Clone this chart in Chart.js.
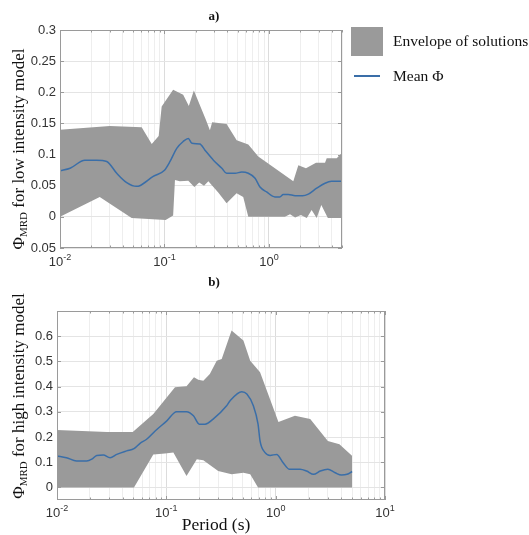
<!DOCTYPE html>
<html>
<head>
<meta charset="utf-8">
<script src="https://cdn.jsdelivr.net/npm/chart.js@4.4.1/dist/chart.umd.min.js"></script>
<style>
  body { margin: 0; background: #fff; }
  #page { position: relative; width: 529px; height: 535px; overflow: hidden; font-family: "Liberation Serif", serif; color: #111; }
  canvas { position: absolute; left: 0; }
  .ttl { position: absolute; font-weight: bold; font-size: 13px; width: 40px; text-align: center; }
  .ylab { position: absolute; width: 240px; height: 22px; line-height: 22px; text-align: center; font-size: 17px; white-space: nowrap; transform: rotate(-90deg); }
  .ylab sub { font-size: 11px; vertical-align: -3px; }
  .xlab { position: absolute; font-size: 17.5px; width: 120px; text-align: center; }
  .leg { position: absolute; font-size: 15.5px; white-space: nowrap; }
</style>
</head>
<body>
<div id="page">
  <canvas id="top" width="529" height="270" style="top:0"></canvas>
  <canvas id="bot" width="529" height="265" style="top:270px"></canvas>

  <div class="ttl" style="left:194px; top:8px;">a)</div>
  <div class="ttl" style="left:194px; top:274px;">b)</div>

  <div class="ylab" style="left:-101px; top:138px;">Φ<sub>MRD</sub> for low intensity model</div>
  <div class="ylab" style="left:-101px; top:385px;">Φ<sub>MRD</sub> for high intensity model</div>
  <div class="xlab" style="left:156px; top:514px;">Period (s)</div>

  <div style="position:absolute; left:351px; top:27px; width:32px; height:29px; background:#9a9a9a;"></div>
  <div class="leg" style="left:393px; top:32px;">Envelope of solutions</div>
  <div style="position:absolute; left:354px; top:75px; width:26px; height:2px; background:#3a6ea8;"></div>
  <div class="leg" style="left:393px; top:67px;">Mean Φ</div>
</div>

<script>
// (a) low intensity model
const topUpperX = [0.01, 0.030, 0.0605, 0.0755, 0.088, 0.094, 0.121, 0.151, 0.171, 0.191, 0.249, 0.272, 0.286, 0.393, 0.491, 0.634, 0.79, 1.71, 1.91, 2.26, 2.82, 3.44, 3.57, 4.45, 5];
const topUpperY = [0.14, 0.146, 0.144, 0.117, 0.13, 0.177, 0.204, 0.196, 0.178, 0.203, 0.156, 0.139, 0.152, 0.149, 0.123, 0.116, 0.097, 0.057, 0.083, 0.078, 0.087, 0.087, 0.094, 0.094, 0.103];
const topLowerX = [0.01, 0.024, 0.0485, 0.1026, 0.121, 0.126, 0.14, 0.169, 0.193, 0.215, 0.239, 0.263, 0.327, 0.393, 0.49, 0.567, 0.634, 1.42, 1.59, 1.78, 2.02, 2.3, 2.56, 2.86, 3.17, 3.66, 5];
const topLowerY = [0, 0.032, -0.002, -0.005, 0.002, 0.059, 0.057, 0.058, 0.048, 0.055, 0.05, 0.057, 0.039, 0.022, 0.038, 0.032, 0, 0, 0.004, -0.001, 0.003, -0.002, 0.011, -0.002, 0.019, -0.002, -0.002];
const topMeanX = [0.01, 0.0125, 0.0173, 0.0224, 0.028, 0.0349, 0.0435, 0.054, 0.058, 0.078, 0.1, 0.113, 0.131, 0.151, 0.169, 0.183, 0.218, 0.244, 0.294, 0.354, 0.393, 0.474, 0.55, 0.634, 0.736, 0.82, 0.95, 1.14, 1.27, 1.37, 1.53, 1.78, 2.1, 2.35, 2.86, 3.44, 3.97, 5];
const topMeanY = [0.074, 0.078, 0.091, 0.091, 0.089, 0.070, 0.055, 0.049, 0.050, 0.065, 0.075, 0.089, 0.110, 0.121, 0.126, 0.118, 0.117, 0.107, 0.091, 0.078, 0.070, 0.070, 0.072, 0.070, 0.062, 0.048, 0.040, 0.032, 0.032, 0.036, 0.036, 0.034, 0.034, 0.036, 0.046, 0.054, 0.057, 0.057];
const topYTicks = [-0.05, 0, 0.05, 0.1, 0.15, 0.2, 0.25, 0.3];

// (b) high intensity model
const botUpperX = [0.01, 0.0287, 0.0493, 0.076, 0.12, 0.153, 0.179, 0.196, 0.218, 0.25, 0.289, 0.321, 0.395, 0.507, 0.585, 0.72, 1.06, 1.5, 2.07, 3.0, 3.83, 5];
const botUpperY = [0.228, 0.220, 0.220, 0.291, 0.397, 0.401, 0.437, 0.427, 0.423, 0.450, 0.503, 0.510, 0.623, 0.583, 0.503, 0.457, 0.260, 0.284, 0.271, 0.184, 0.171, 0.125];
const botLowerX = [0.01, 0.0506, 0.076, 0.097, 0.116, 0.153, 0.19, 0.218, 0.298, 0.395, 0.507, 0.585, 0.69, 5];
const botLowerY = [0, 0, 0.131, 0.135, 0.138, 0.045, 0.112, 0.108, 0.065, 0.052, 0.058, 0.052, 0, 0];
const botMeanX = [0.01, 0.0122, 0.0151, 0.0187, 0.0208, 0.0231, 0.0265, 0.0306, 0.0352, 0.0434, 0.0506, 0.0575, 0.066, 0.079, 0.101, 0.124, 0.153, 0.177, 0.2, 0.226, 0.268, 0.356, 0.383, 0.49, 0.545, 0.625, 0.69, 0.72, 0.8, 0.89, 1.02, 1.17, 1.34, 1.67, 1.92, 2.22, 2.56, 3.0, 3.5, 4.0, 4.5, 5];
const botMeanY = [0.125, 0.118, 0.105, 0.105, 0.112, 0.127, 0.129, 0.118, 0.131, 0.145, 0.154, 0.175, 0.191, 0.224, 0.264, 0.300, 0.300, 0.284, 0.251, 0.251, 0.271, 0.324, 0.344, 0.380, 0.371, 0.324, 0.251, 0.184, 0.138, 0.127, 0.131, 0.098, 0.072, 0.072, 0.065, 0.052, 0.065, 0.072, 0.058, 0.049, 0.052, 0.063];
const botYTicks = [0, 0.1, 0.2, 0.3, 0.4, 0.5, 0.6];

const ENVELOPE = '#9a9a9a';
const MEAN = '#3a6ea8';

const pts = (xs, ys) => xs.map((x, i) => ({ x, y: ys[i] }));
const isDecade = v => Math.abs(Math.log10(v) - Math.round(Math.log10(v))) < 1e-9;

function logTicks(min, max) {
  const out = [];
  for (let e = Math.floor(Math.log10(min)); e <= Math.ceil(Math.log10(max)); e++) {
    for (let m = 1; m <= 9; m++) {
      const v = +(m * Math.pow(10, e)).toPrecision(6);
      if (v >= min - 1e-12 && v <= max + 1e-12) out.push({ value: v });
    }
  }
  return out;
}

// MATLAB-like box, inner tick marks and 10^n labels
const matlabAxes = {
  id: 'matlabAxes',
  afterDraw(chart, args, opts) {
    const { ctx, chartArea: a, scales: { x, y } } = chart;
    ctx.save();
    ctx.strokeStyle = '#9a9a9a';
    ctx.lineWidth = 1;
    ctx.beginPath();
    x.ticks.forEach(t => {
      const px = Math.round(x.getPixelForValue(t.value)) + 0.5;
      const len = isDecade(t.value) ? 4 : 2.5;
      ctx.moveTo(px, a.bottom); ctx.lineTo(px, a.bottom - len);
      ctx.moveTo(px, a.top); ctx.lineTo(px, a.top + len);
    });
    y.ticks.forEach(t => {
      const py = Math.round(y.getPixelForValue(t.value)) + 0.5;
      ctx.moveTo(a.left, py); ctx.lineTo(a.left + 4, py);
      ctx.moveTo(a.right, py); ctx.lineTo(a.right - 4, py);
    });
    ctx.stroke();
    ctx.strokeRect(a.left + 0.5, a.top + 0.5, a.width - 1, a.height - 1);

    ctx.fillStyle = '#333';
    ctx.textBaseline = 'alphabetic';
    ctx.textAlign = 'left';
    x.ticks.filter(t => isDecade(t.value)).forEach(t => {
      const px = x.getPixelForValue(t.value);
      const e = String(Math.round(Math.log10(t.value)));
      ctx.font = '13px "Liberation Sans", Arial, sans-serif';
      const w1 = ctx.measureText('10').width;
      ctx.font = '9px "Liberation Sans", Arial, sans-serif';
      const w2 = ctx.measureText(e).width;
      const left = px - (w1 + w2) / 2;
      const base = a.bottom + opts.labelOffset;
      ctx.font = '13px "Liberation Sans", Arial, sans-serif';
      ctx.fillText('10', left, base);
      ctx.font = '9px "Liberation Sans", Arial, sans-serif';
      ctx.fillText(e, left + w1, base - 6);
    });
    ctx.restore();
  }
};

function makeChart(id, cfg) {
  return new Chart(document.getElementById(id).getContext('2d'), {
    type: 'line',
    data: {
      datasets: [
        { data: pts(cfg.lowerX, cfg.lowerY), borderWidth: 0, pointRadius: 0, fill: false, tension: 0, order: 2 },
        { data: pts(cfg.upperX, cfg.upperY), borderWidth: 0, pointRadius: 0, fill: '-1', backgroundColor: ENVELOPE, tension: 0, order: 1 },
        // mean drawn last, on top of the envelope
        { data: pts(cfg.meanX, cfg.meanY), borderColor: MEAN, borderWidth: 1.5, pointRadius: 0, fill: false, cubicInterpolationMode: 'monotone', order: 0 },
      ],
    },
    options: {
      responsive: false,
      animation: false,
      layout: { padding: cfg.padding },
      plugins: { legend: { display: false }, tooltip: { enabled: false }, matlabAxes: { labelOffset: cfg.labelOffset } },
      scales: {
        x: {
          type: 'logarithmic',
          min: cfg.xMin, max: cfg.xMax,
          afterBuildTicks: s => { s.ticks = logTicks(cfg.xMin, cfg.xMax); },
          afterFit: s => { s.height = cfg.xHeight; },
          ticks: { display: false },
          border: { display: false },
          grid: { drawTicks: false, color: c => (c.tick && isDecade(c.tick.value)) ? '#dcdcdc' : '#eeeeee' },
        },
        y: {
          min: cfg.yMin, max: cfg.yMax,
          afterBuildTicks: s => { s.ticks = cfg.yTicks.map(v => ({ value: v })); },
          afterFit: s => { s.width = cfg.yWidth; },
          ticks: {
            padding: 4,
            color: '#333',
            font: { family: '"Liberation Sans", Arial, sans-serif', size: 13 },
            callback: v => String(+Math.abs(v).toFixed(2)),
          },
          border: { display: false },
          grid: { drawTicks: false, color: '#e4e4e4' },
        },
      },
    },
    plugins: [matlabAxes],
  });
}

makeChart('top', {
  lowerX: topLowerX, lowerY: topLowerY, upperX: topUpperX, upperY: topUpperY, meanX: topMeanX, meanY: topMeanY,
  xMin: 0.01, xMax: 5, yMin: -0.05, yMax: 0.3, yTicks: topYTicks,
  padding: { left: 0, top: 30, right: 187, bottom: 0 }, yWidth: 60, xHeight: 22, labelOffset: 18,
});

makeChart('bot', {
  lowerX: botLowerX, lowerY: botLowerY, upperX: botUpperX, upperY: botUpperY, meanX: botMeanX, meanY: botMeanY,
  xMin: 0.01, xMax: 10, yMin: -0.05, yMax: 0.7, yTicks: botYTicks,
  padding: { left: 0, top: 41, right: 144, bottom: 0 }, yWidth: 57, xHeight: 35, labelOffset: 17,
});
</script>
</body>
</html>
